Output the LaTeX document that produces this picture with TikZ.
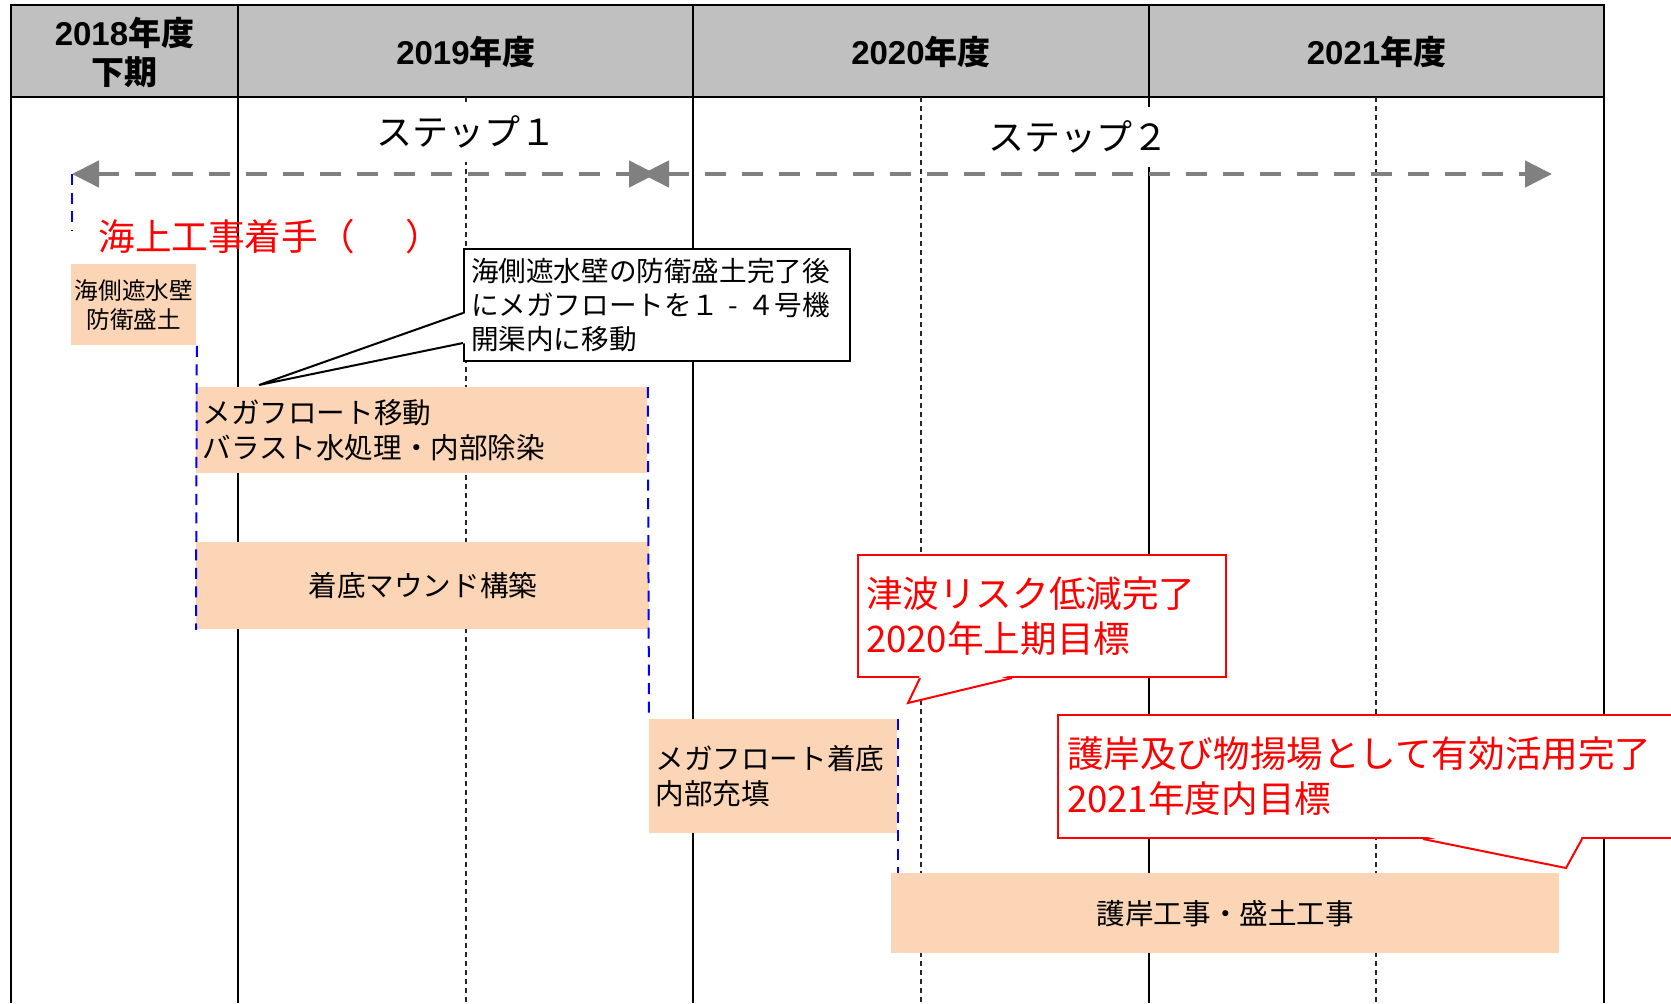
\documentclass[tikz,border=0pt]{standalone}
\usepackage{fontspec}
\setmainfont{Noto Sans CJK JP}
\newfontfamily\digitfont{Liberation Sans}
\usetikzlibrary{arrows.meta}
\definecolor{peach}{HTML}{FBD5B5}
\definecolor{headgray}{HTML}{C0C0C0}
\definecolor{arrowgray}{HTML}{808080}
\newcommand{\yr}[1]{{\digitfont #1}年度}

\begin{document}
\begin{tikzpicture}[x=0.5pt, y=-0.5pt,
  grid/.style = {line width=0.75pt},
  half/.style = {black!85, line width=0.6pt, dash pattern=on 2.5pt off 2pt},
  head/.style = {font=\fontsize{16.5}{19.5}\selectfont\bfseries, align=center},
  bar/.style = {fill=peach, inner sep=0pt, anchor=north west, font=\fontsize{14.3}{17.5}\selectfont},
  steplabel/.style = {fill=white, inner xsep=2pt, inner ysep=7pt, font=\fontsize{18}{20}\selectfont},
  steparrow/.style = {draw=arrowgray, line width=2.4pt, dash pattern=on 10.5pt off 8pt,
    {Triangle[length=13.5pt,width=13pt]}-{Triangle[length=13.5pt,width=13pt]}},
  milestone/.style = {draw=blue, line width=1pt, dash pattern=on 5.5pt off 3.75pt},
  note/.style = {draw, fill=white, line width=1pt, inner sep=0pt, anchor=north west, align=left,
    font=\fontsize{13.8}{17}\selectfont},
  goal/.style = {note, draw=red, text=red, font=\fontsize{18.3}{22.5}\selectfont}]

\useasboundingbox (0,0) rectangle (1671,1003);

\draw[fill=headgray, line width=1.2pt] (11,5) rectangle (1604,97);
\foreach \x in {238,693,1149} \draw[grid] (\x,5) -- (\x,1003);
\foreach \x in {11,1604} \draw[line width=1pt] (\x,5) -- (\x,1003);
\foreach \x in {466,921,1376} \draw[half] (\x,97) -- (\x,1003);

\node[head] (h18) at (124.5,52) {\yr{2018}\\下期};
\node[head] (h19) at (466,52) {\yr{2019}};
\node[head] (h20) at (921,52) {\yr{2020}};
\node[head] (h21) at (1376.5,52) {\yr{2021}};

\node[steplabel] (step1) at (466,132) {ステップ１};
\node[steplabel] (step2) at (1078,137) {ステップ２};

\coordinate (s1a) at (72,174);
\coordinate (s1b) at (656,174);
\coordinate (s2a) at (642,174);
\coordinate (s2b) at (1552,174);
\coordinate (m0) at (72,230);

\node[anchor=west, text=red, inner sep=0pt, font=\fontsize{18.3}{20}\selectfont] (start) at (98,237) {海上工事着手（\hspace{1.4em}）};

\node[bar, minimum width=62.5pt, minimum height=40.5pt, align=center, font=\fontsize{11.8}{14.5}\selectfont] (wall) at (71,264) {海側遮水壁\\防衛盛土};
\node[bar, minimum height=43pt, text width=219.5pt, inner xsep=3pt, align=left] (float) at (196,387) {メガフロート移動\\バラスト水処理・内部除染};
\node[bar, minimum width=226.5pt, minimum height=43.5pt] (mound) at (196,542) {着底マウンド構築};
\node[bar, minimum height=57pt, text width=118pt, inner xsep=3pt, align=left] (landing) at (649,719) {メガフロート着底\\内部充填};
\node[bar, minimum width=334pt, minimum height=40pt] (revet) at (891,873) {護岸工事・盛土工事};

\draw[steparrow] (s1a) -- (s1b);
\draw[steparrow] (s2a) -- (s2b);

\draw[milestone] (s1a) -- (m0);
\draw[milestone] (wall.south east) -- (mound.south west);
\draw[milestone] (float.north east) -- (landing.north west);
\draw[milestone] (landing.north east) -- (landing.north east |- revet.north);

\node[note, minimum height=56pt, text width=186pt, inner xsep=3.5pt] (note) at (463,248) {海側遮水壁の防衛盛土完了後\\にメガフロートを１\makebox[1em]{-}４号機\\開渠内に移動};
\coordinate (notetip) at (259,385);
\fill[white] ([shift={(1.5pt,-4pt)}]note.west) -- (notetip) -- ([shift={(1.5pt,-19pt)}]note.west) -- cycle;
\draw[line width=1pt] ([yshift=-4pt]note.west) -- (notetip) -- ([yshift=-19pt]note.west);

\node[goal, minimum height=61pt, text width=176pt, inner xsep=4pt] (tsunami) at (857,554) {津波リスク低減完了\\2020年上期目標};
\coordinate (tsunamitip) at (908,703);
\fill[white] ([shift={(31.5pt,1.5pt)}]tsunami.south west) -- (tsunamitip) -- ([shift={(77.5pt,1.5pt)}]tsunami.south west) -- cycle;
\draw[red, line width=1pt] ([xshift=31.5pt]tsunami.south west) -- (tsunamitip) -- ([xshift=77.5pt]tsunami.south west);

\node[goal, minimum height=61.5pt, text width=322.5pt, inner xsep=4.5pt] (quay) at (1057,714) {護岸及び物揚場として有効活用完了\\2021年度内目標};
\coordinate (quaytip) at (1566,868);
\fill[white] ([shift={(183pt,1.5pt)}]quay.south west) -- (quaytip) -- ([shift={(262.5pt,1.5pt)}]quay.south west) -- cycle;
\draw[red, line width=1pt] ([xshift=183pt]quay.south west) -- (quaytip) -- ([xshift=262.5pt]quay.south west);
\end{tikzpicture}
\end{document}
